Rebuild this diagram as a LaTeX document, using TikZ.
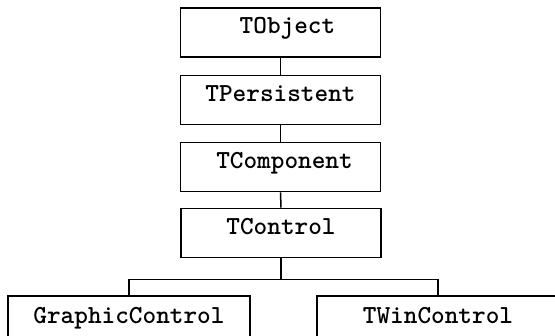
\documentclass[tikz,border=0pt]{standalone}

\begin{document}
\begin{tikzpicture}[x=1pt, y=1pt,
  cls/.style={draw, line width=1.6pt, minimum width=200pt, minimum height=49pt, text height=0.6em, text depth=0.3em, font=\ttfamily\bfseries\fontsize{26}{30}\selectfont},
  leaf/.style={cls, minimum width=242pt, minimum height=52pt},
  link/.style={line width=1.5pt}]
\useasboundingbox (0,0) rectangle (555,-336);
\clip (0,0) rectangle (555,-336);
\node[cls] (obj) at (280.5,-32.5) {\hspace*{14pt}TObject};
\node[cls] (pers) at (280.5,-100) {TPersistent};
\node[cls] (comp) at (280.5,-167) {\hspace*{8pt}TComponent};
\node[cls] (ctrl) at (281,-233) {TControl};
\node[leaf, anchor=north] (gc) at (129,-295) {GraphicControl};
\node[leaf, anchor=north] (wc) at (438,-295) {TWinControl};
\coordinate (fork) at (281,-279.5);
\draw[link] (obj) -- (pers);
\draw[link] (pers) -- (comp);
\draw[link] (comp) -- (ctrl);
\draw[link] (ctrl) -- (fork);
\draw[link] (gc.north) |- (fork) -| (wc.north);
\end{tikzpicture}
\end{document}
